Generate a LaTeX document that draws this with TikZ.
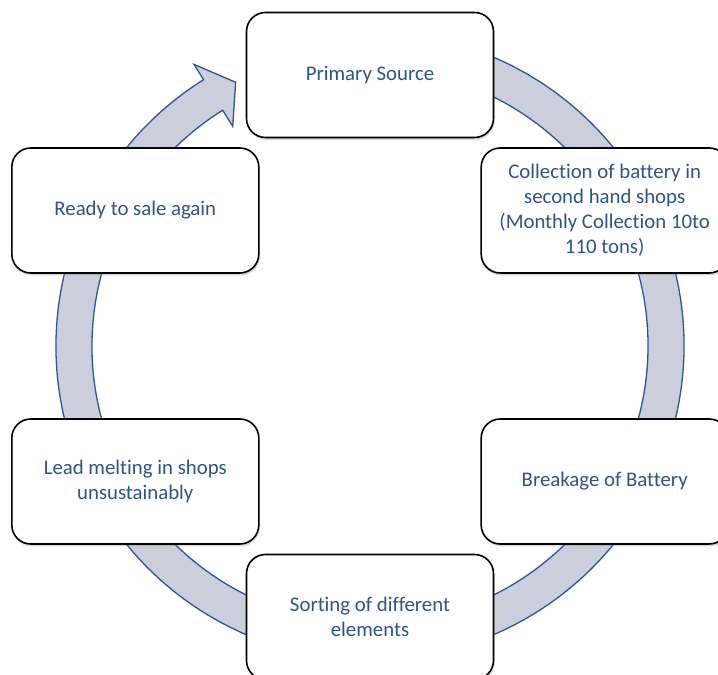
\documentclass[tikz,border=0pt]{standalone}
\usepackage{fontspec}
\setmainfont{Carlito}[Ligatures=NoCommon]
\usetikzlibrary{calc, shadows}
\definecolor{ringfill}{RGB}{203,207,219}
\definecolor{ringline}{RGB}{47,84,150}
\definecolor{txtblue}{RGB}{47,84,140}

\begin{document}
\begin{tikzpicture}[
		x=1pt, y=1pt,
		block/.style = {draw=black, line width=1.6pt, rectangle, rounded corners=19pt, fill=white,
			minimum width=247pt, minimum height=125pt, align=center, text=txtblue,
			font=\fontsize{20.8}{25}\selectfont,
			drop shadow={opacity=0.3, shadow xshift=1pt, shadow yshift=-2.5pt}},
		ring/.style = {draw=ringline, line width=1.3pt, fill=ringfill, line join=miter}
		]
		
		\useasboundingbox (0,0) rectangle (718,675);
		\coordinate (c) at (370,329);
		
		% circular arrow behind the boxes, running clockwise
		\draw [ring] ($(c)+(80:314)$) arc [start angle=80, end angle=-238, radius=314]
			-- ($(c)+(-238:332)$) -- ($(c)+(-243:296)$) -- ($(c)+(-238:259)$)
			-- ($(c)+(-238:278)$) arc [start angle=-238, end angle=80, radius=278] -- cycle;
		
		\node [block] (src) at ($(c)+(90:271)$) {Primary Source};
		\node [block] (collect) at ($(c)+(30:271)$) {Collection of battery in\\second hand shops\\(Monthly Collection 10to\\110 tons)};
		\node [block] (breakage) at ($(c)+(-30:271)$) {Breakage of Battery};
		\node [block] (sorting) at ($(c)+(-90:271)$) {Sorting of different\\elements};
		\node [block] (melting) at ($(c)+(-150:271)$) {Lead melting in shops\\unsustainably};
		\node [block] (resale) at ($(c)+(150:271)$) {Ready to sale again};
		
	\end{tikzpicture}
\end{document}
